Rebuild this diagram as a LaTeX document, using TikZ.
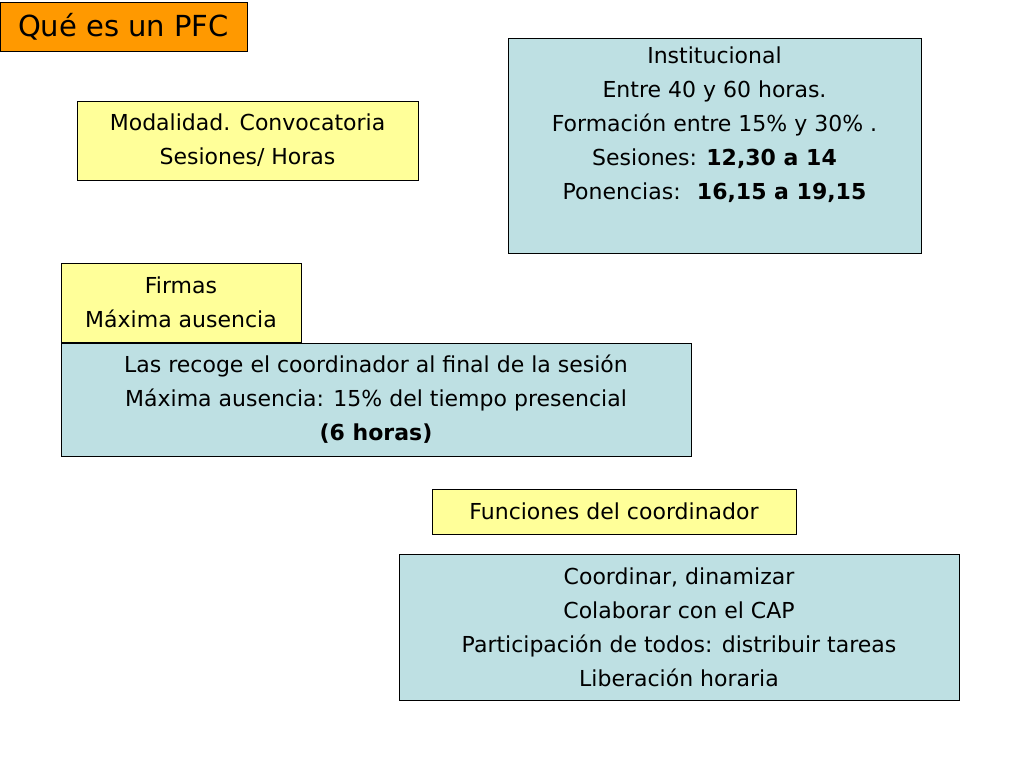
\documentclass[tikz,border=0pt]{standalone}
\usepackage{fontspec}
\setmainfont{DejaVu Sans}
\definecolor{yel}{HTML}{FFFF99}
\definecolor{blu}{HTML}{BEE0E3}
\definecolor{ora}{HTML}{FF9900}
\begin{document}
\begin{tikzpicture}[x=1pt,y=-1pt,
  box/.style={draw=black,line width=0.6pt,inner sep=0pt,font=\fontsize{22}{34}\selectfont,align=center},
  yb/.style={box,fill=yel},
  bb/.style={box,fill=blu}]
\useasboundingbox (0,0) rectangle (1024,768);
\fill[white] (0,0) rectangle (1024,768);
\node[box,fill=ora,minimum width=247pt,minimum height=49pt,font=\fontsize{29}{34}\selectfont] (t) at (123.5,26.5) {Qué es un PFC};
\node[yb,minimum width=341pt,minimum height=79pt] (m) at (247.5,140.5) {Modalidad. Convocatoria\\Sesiones/ Horas};
\node[bb,minimum width=413pt,minimum height=215pt] (i) at (714.5,145.5) {};
\node[box,draw=none,anchor=north] (it) at (714.5,46) {Institucional\\Entre 40 y 60 horas.\\Formación entre 15\% y 30\% .\\Sesiones: \textbf{12,30 a 14}\\Ponencias: \ \textbf{16,15 a 19,15}};
\node[yb,minimum width=240pt,minimum height=79pt] (f) at (181,302.5) {Firmas\\Máxima ausencia};
\node[bb,minimum width=630pt,minimum height=113pt] (l) at (376,399.5) {Las recoge el coordinador al final de la sesión\\Máxima ausencia: 15\% del tiempo presencial\\\textbf{(6 horas)}};
\node[yb,minimum width=364pt,minimum height=45pt] (fc) at (614,511.5) {Funciones del coordinador};
\node[bb,minimum width=560pt,minimum height=146pt] (c) at (679,627) {Coordinar, dinamizar\\Colaborar con el CAP\\Participación de todos: distribuir tareas\\Liberación horaria};
\end{tikzpicture}
\end{document}
